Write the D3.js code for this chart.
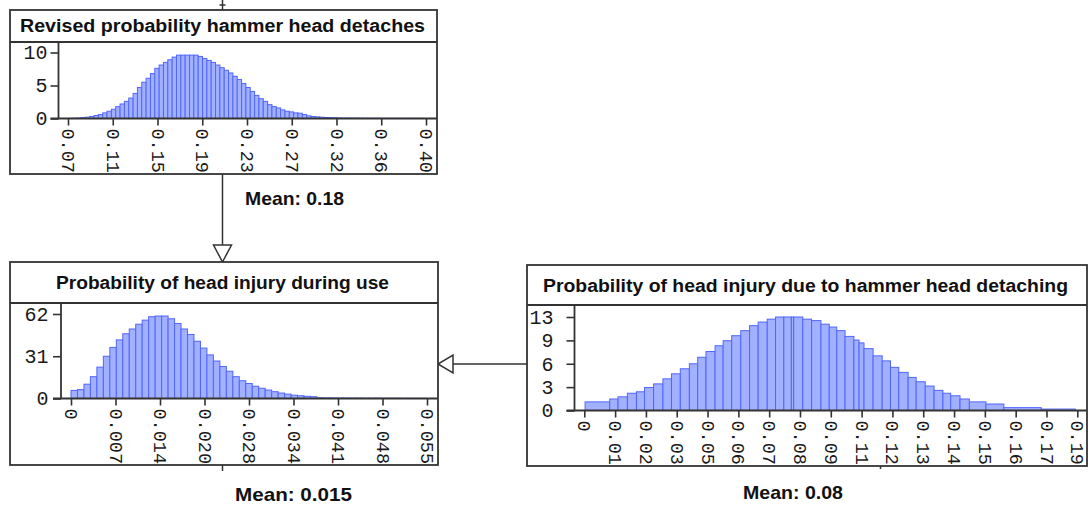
<!DOCTYPE html>
<html>
<head>
<meta charset="utf-8">
<script src="https://cdn.jsdelivr.net/npm/d3@7/dist/d3.min.js"></script>
<style>
  html, body { margin: 0; padding: 0; background: #fff; }
  svg { display: block; }
</style>
</head>
<body>
<svg id="chart" width="1089" height="507"></svg>
<script>
// ---- Revised probability hammer head detaches (bins of 0.004 from 0.07) ----
const detachStart = 0.07;
const detachBinWidth = 0.004;
const detachDensity = [
  0.02, 0.04, 0.07, 0.12, 0.2, 0.3, 0.45, 0.6, 0.85, 1.1,
  1.4, 1.8, 2.2, 2.6, 3.1, 3.8, 4.7, 5.5, 6.1, 6.8,
  7.6, 8.1, 8.5, 8.9, 9.3, 9.6, 9.6, 9.6, 9.6, 9.6,
  9.4, 9.1, 8.8, 8.5, 8.1, 7.7, 7.3, 6.9, 6.4, 5.9,
  5.3, 4.7, 4.1, 3.5, 3.0, 2.6, 2.1, 1.8, 1.6, 1.3,
  1.1, 1.0, 0.85, 0.8, 0.6, 0.4, 0.3, 0.25, 0.2, 0.15,
  0.12, 0.1, 0.08, 0.06, 0.05, 0.05, 0.04, 0.04, 0.03, 0.03,
  0.03, 0.03, 0.02, 0.02, 0.02, 0.02, 0.02, 0.02, 0.02, 0.02,
  0.02, 0.02
];
const detachXDomain = [0.07, 0.40];
const detachXLabels = ["0.07", "0.11", "0.15", "0.19", "0.23", "0.27", "0.32", "0.36", "0.40"];
const detachYMax = 10;
const detachYTicks = [0, 5, 10];
const detachYLabels = ["0", "5", "10"];
const detachMean = "0.18";

// ---- Probability of head injury during use (bins of 0.001 from 0) ----
const useStart = 0;
const useBinWidth = 0.001;
const useDensity = [
  5.9, 6.5, 10.5, 16, 23, 31, 37.5, 43, 47.5, 51,
  54.5, 57.5, 60, 60.5, 60.5, 58.5, 55, 51, 47, 42,
  37, 32, 27.5, 23.5, 20, 16, 13, 11, 9, 7.5,
  6.2, 5, 4, 3.2, 2.4, 2, 1.6, 1.3, 0.5, 0.4,
  0.35, 0.3, 0.3, 0.25, 0.25, 0.2, 0.2, 0.2, 0.15, 0.15,
  0.15, 0.1, 0.1, 0.1, 0.1
];
const useXDomain = [0, 0.055];
const useXLabels = ["0", "0.007", "0.014", "0.020", "0.028", "0.034", "0.041", "0.048", "0.055"];
const useYMax = 62;
const useYTicks = [0, 31, 62];
const useYLabels = ["0", "31", "62"];
const useMean = "0.015";

// ---- Probability of head injury due to hammer head detaching (uneven bins) ----
const injuryEdges = [
  0.0003, 0.0098, 0.0130, 0.0166, 0.0201, 0.0232, 0.0267, 0.0303, 0.0336, 0.0370,
  0.0405, 0.0437, 0.0469, 0.0504, 0.0535, 0.0568, 0.0603, 0.0637, 0.0670, 0.0705,
  0.0737, 0.0769, 0.0798, 0.0807, 0.0842, 0.0876, 0.0912, 0.0944, 0.0973, 0.1005,
  0.1039, 0.1059, 0.1078, 0.1113, 0.1148, 0.1180, 0.1212, 0.1248, 0.1279, 0.1314,
  0.1348, 0.1382, 0.1412, 0.1448, 0.1484, 0.1548, 0.1617, 0.1761, 0.1892
];
const injuryDensity = [
  1.2, 1.6, 1.9, 2.4, 2.6, 3.2, 3.7, 4.4, 5.1, 5.8,
  6.5, 7.4, 8.2, 9.0, 9.7, 10.4, 11.1, 11.8, 12.3, 12.7,
  13.0, 13.0, 13.0, 13.0, 12.7, 12.5, 12.0, 11.6, 11.1, 10.3,
  9.8, 9.4, 8.6, 7.6, 6.9, 6.0, 5.3, 4.6, 4.0, 3.4,
  2.8, 2.4, 2.05, 1.6, 1.2, 0.9, 0.4, 0.2
];
const injuryXDomain = [0, 0.19];
const injuryXLabels = ["0", "0.01", "0.02", "0.03", "0.05", "0.06", "0.07", "0.08", "0.09",
                       "0.11", "0.12", "0.13", "0.14", "0.15", "0.16", "0.17", "0.19"];
const injuryYMax = 13;
const injuryYTicks = [0, 3.25, 6.5, 9.75, 13];
const injuryYLabels = ["0", "3", "6", "9", "13"];
const injuryMean = "0.08";

// ---- helpers ----
const evenBins = (start, width, values) =>
  values.map((v, i) => ({ x0: start + i * width, x1: start + (i + 1) * width, v }));
const edgeBins = (edges, values) =>
  values.map((v, i) => ({ x0: edges[i], x1: edges[i + 1], v }));

const FRAME = "#333";
const BAR_FILL = "#a2b1ff";
const BAR_STROKE = "#5165ff";
const TITLE_FONT = "'Liberation Sans', Arial, sans-serif";
const TICK_FONT = "'Liberation Mono', 'DejaVu Sans Mono', monospace";

const svg = d3.select("#chart");

// node layout of the influence diagram
const panels = [
  {
    title: "Revised probability hammer head detaches", titleX: 20, titleY: 32, titleW: 405,
    box: [10, 10, 437, 174], sepY: 42,
    axisX: 58.5, axisY: 118.5, plotTop: 42, xRange: [68, 426],
    yLabelEnd: 47.5, yTop: 52.5,
    bins: evenBins(detachStart, detachBinWidth, detachDensity),
    xDomain: detachXDomain, xLabels: detachXLabels,
    yMax: detachYMax, yTicks: detachYTicks, yLabels: detachYLabels,
    mean: detachMean, meanX: 245, meanY: 205, meanW: 99
  },
  {
    title: "Probability of head injury during use", titleX: 56, titleY: 289, titleW: 333,
    box: [10, 262, 438, 465], sepY: 303,
    axisX: 61, axisY: 398.5, plotTop: 303, xRange: [71, 427],
    yLabelEnd: 48.5, yTop: 314,
    bins: evenBins(useStart, useBinWidth, useDensity),
    xDomain: useXDomain, xLabels: useXLabels,
    yMax: useYMax, yTicks: useYTicks, yLabels: useYLabels,
    mean: useMean, meanX: 235, meanY: 500.5, meanW: 117
  },
  {
    title: "Probability of head injury due to hammer head detaching", titleX: 543, titleY: 291.5, titleW: 525,
    box: [527, 265, 1087, 466], sepY: 305,
    axisX: 574.5, axisY: 410.5, plotTop: 305, xRange: [584.3, 1077.3],
    yLabelEnd: 553.5, yTop: 317,
    bins: edgeBins(injuryEdges, injuryDensity),
    xDomain: injuryXDomain, xLabels: injuryXLabels,
    yMax: injuryYMax, yTicks: injuryYTicks, yLabels: injuryYLabels,
    mean: injuryMean, meanX: 743, meanY: 499, meanW: 100
  }
];

// ---- arcs between nodes (drawn first, boxes sit on top) ----
const arcs = svg.append("g").attr("stroke", "#333").attr("stroke-width", 1.5).attr("fill", "none");
arcs.append("line").attr("x1", 222.5).attr("y1", 0).attr("x2", 222.5).attr("y2", 10);
arcs.append("line").attr("x1", 219.5).attr("y1", 5).attr("x2", 225.5).attr("y2", 5);
arcs.append("line").attr("x1", 222.5).attr("y1", 174).attr("x2", 222.5).attr("y2", 245);
arcs.append("path").attr("d", "M213.5,245 L231.5,245 L222.5,262 Z").attr("fill", "#fff");
arcs.append("line").attr("x1", 527).attr("y1", 364).attr("x2", 453).attr("y2", 364);
arcs.append("path").attr("d", "M453,355 L453,373 L438,364 Z").attr("fill", "#fff");
arcs.append("line").attr("x1", 222.5).attr("y1", 465).attr("x2", 222.5).attr("y2", 471);
arcs.append("line").attr("x1", 880.5).attr("y1", 466).attr("x2", 880.5).attr("y2", 469);

panels.forEach(p => {
  const g = svg.append("g");
  const [bx0, by0, bx1, by1] = p.box;

  g.append("rect")
    .attr("x", bx0).attr("y", by0).attr("width", bx1 - bx0).attr("height", by1 - by0)
    .attr("fill", "#fff").attr("stroke", FRAME).attr("stroke-width", 1.8);
  g.append("line")
    .attr("x1", bx0).attr("x2", bx1).attr("y1", p.sepY).attr("y2", p.sepY)
    .attr("stroke", FRAME).attr("stroke-width", 1.8);

  g.append("text")
    .attr("x", p.titleX).attr("y", p.titleY)
    .attr("textLength", p.titleW).attr("lengthAdjust", "spacingAndGlyphs")
    .attr("font-family", TITLE_FONT).attr("font-weight", "bold").attr("font-size", 18)
    .attr("fill", "#111")
    .text(p.title);

  const x = d3.scaleLinear().domain(p.xDomain).range(p.xRange);
  const y = d3.scaleLinear().domain([0, p.yMax]).range([p.axisY, p.yTop]);

  // histogram bars
  g.append("g").selectAll("rect").data(p.bins).join("rect")
    .attr("x", d => x(d.x0))
    .attr("width", d => Math.max(0.5, x(d.x1) - x(d.x0)))
    .attr("y", d => y(d.v))
    .attr("height", d => p.axisY - y(d.v))
    .attr("fill", BAR_FILL)
    .attr("stroke", BAR_STROKE)
    .attr("stroke-width", 1);

  // x axis: evenly spaced ticks across the domain
  const n = p.xLabels.length;
  const xTickVals = p.xLabels.map((_, i) => p.xDomain[0] + i * (p.xDomain[1] - p.xDomain[0]) / (n - 1));
  const xAxis = g.append("g")
    .attr("transform", `translate(0,${p.axisY})`)
    .call(d3.axisBottom(x).tickValues(xTickVals).tickFormat((d, i) => p.xLabels[i]).tickSize(7).tickSizeOuter(0));
  xAxis.select(".domain").remove();
  xAxis.selectAll(".tick line").attr("stroke", FRAME).attr("stroke-width", 1.6);
  xAxis.selectAll(".tick text")
    .attr("transform", "rotate(90)")
    .attr("x", 10).attr("y", 0).attr("dy", "0.35em")
    .attr("text-anchor", "start")
    .attr("font-family", TICK_FONT).attr("font-size", 18.5)
    .attr("fill", "#1a1a1a");

  // y axis
  const yAxis = g.append("g")
    .attr("transform", `translate(${p.axisX},0)`)
    .call(d3.axisLeft(y).tickValues(p.yTicks).tickFormat((d, i) => p.yLabels[i]).tickSize(8).tickSizeOuter(0));
  yAxis.select(".domain").remove();
  yAxis.selectAll(".tick line").attr("stroke", FRAME).attr("stroke-width", 1.6);
  yAxis.selectAll(".tick text")
    .attr("x", p.yLabelEnd - p.axisX)
    .attr("font-family", TICK_FONT).attr("font-size", 20)
    .attr("fill", "#1a1a1a");

  // axis lines
  g.append("line")
    .attr("x1", p.axisX).attr("x2", p.axisX).attr("y1", p.plotTop).attr("y2", p.axisY)
    .attr("stroke", FRAME).attr("stroke-width", 1.8);
  g.append("line")
    .attr("x1", p.axisX - 8).attr("x2", bx1).attr("y1", p.axisY).attr("y2", p.axisY)
    .attr("stroke", FRAME).attr("stroke-width", 1.8);

  // mean caption under the node
  svg.append("text")
    .attr("x", p.meanX).attr("y", p.meanY)
    .attr("textLength", p.meanW).attr("lengthAdjust", "spacingAndGlyphs")
    .attr("font-family", TITLE_FONT).attr("font-weight", "bold").attr("font-size", 19)
    .attr("fill", "#111")
    .text("Mean: " + p.mean);
});
</script>
</body>
</html>
